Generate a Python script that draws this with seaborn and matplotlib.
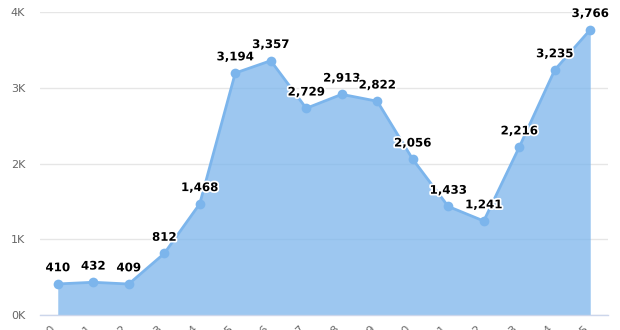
import matplotlib
matplotlib.use("Agg")
import matplotlib.pyplot as plt
import matplotlib.patheffects as pe
import seaborn as sns
import pandas as pd
import numpy as np

categories = [str(y) for y in range(2000, 2016)]
values = [410, 432, 409, 812, 1468, 3194, 3357, 2729, 2913, 2822, 2056, 1433, 1241, 2216, 3235, 3766]
y_ticks = [0, 1000, 2000, 3000, 4000]
y_tick_labels = ["0K", "1K", "2K", "3K", "4K"]

df = pd.DataFrame({"cat": categories, "val": values})
df["pos"] = np.arange(len(df))

sns.set_theme(style="white")
plt.rcParams["font.family"] = ["DejaVu Sans"]

fig = plt.figure(figsize=(6.2, 3.3), dpi=100)
ax = fig.add_axes([40/620, 15/330, 568/620, 303/330])

line_color = "#7cb5ec"
ax.fill_between(df["pos"], df["val"], 0, color=line_color, alpha=0.75, linewidth=0, zorder=2)
sns.lineplot(data=df, x="pos", y="val", ax=ax, color=line_color, linewidth=2,
             marker="o", markersize=7, markeredgewidth=0, zorder=3)

for x, v in zip(df["pos"], df["val"]):
    ax.annotate(f"{v:,}", (x, v), xytext=(0, 7), textcoords="offset points",
                ha="center", va="bottom", fontsize=8.5, fontweight="semibold", color="#000000",
                path_effects=[pe.withStroke(linewidth=2.5, foreground="white")], zorder=4)

ax.set_xlim(-0.5, len(df) - 0.5)
ax.set_ylim(0, 4000)
ax.set_yticks(y_ticks)
ax.set_yticklabels(y_tick_labels, fontsize=8, color="#666666")
ax.set_xticks(df["pos"])
ax.set_xticklabels(categories, rotation=45, ha="right", fontsize=8, color="#666666")
ax.set_xticks(np.arange(-0.5, len(df), 1), minor=True)
ax.tick_params(axis="x", which="major", length=0, pad=6)
ax.tick_params(axis="x", which="minor", length=8, color="#ccd6eb", width=1, direction="out")
ax.tick_params(axis="y", length=0, pad=21)
for lab in ax.get_yticklabels():
    lab.set_horizontalalignment("left")
ax.grid(axis="y", color="#e6e6e6", linewidth=1, zorder=0)
ax.set_axisbelow(True)
for s in ["top", "right", "left"]:
    ax.spines[s].set_visible(False)
ax.spines["bottom"].set_color("#ccd6eb")
ax.spines["bottom"].set_linewidth(1)
ax.set_xlabel("")
ax.set_ylabel("")

fig.savefig("out.png", dpi=100)
